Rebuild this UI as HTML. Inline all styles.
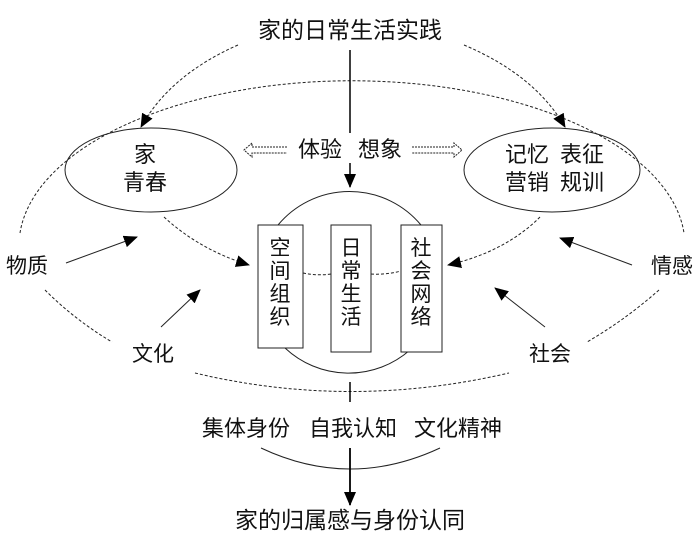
<!DOCTYPE html>
<html><head><meta charset="utf-8"><style>
html,body{margin:0;padding:0;background:#fff;}
svg{display:block}
text{font-family:"Liberation Sans","Noto Sans CJK SC",sans-serif;fill:#111;}
</style></head><body>
<svg width="700" height="541" viewBox="0 0 700 541" xmlns="http://www.w3.org/2000/svg">
<defs>
<marker id="ah2" markerWidth="14" markerHeight="12" refX="13" refY="6" orient="auto" markerUnits="userSpaceOnUse">
<path d="M0,0 L14,6 L0,12 z" fill="#000"/></marker>
</defs>
<g fill="none" stroke="#222" stroke-width="1">
<path d="M20,233 A333,165 0 0 1 684,233" stroke-dasharray="3,2"/>
<path d="M45,290 Q75,320 112,342" stroke-dasharray="3,2"/>
<path d="M659,290 Q625,320 587,342" stroke-dasharray="3,2"/>
<path d="M195,373 Q350,410 509,373" stroke-dasharray="3,2"/>
<ellipse cx="151" cy="170" rx="86" ry="42"/>
<ellipse cx="552" cy="170" rx="88" ry="42"/>
<line x1="350" y1="50" x2="350" y2="133" stroke="#000" stroke-width="1.5"/>
<line x1="350" y1="163" x2="350" y2="187" stroke="#000" stroke-width="1.5" marker-end="url(#ah2)"/>
<path d="M238,45 Q170,75 141,127" stroke-dasharray="3,2" marker-end="url(#ah2)"/>
<path d="M464,45 Q535,75 565,127" stroke-dasharray="3,2" marker-end="url(#ah2)"/>
<path d="M287,147 L252,147 L252,143 L244,150 L252,157 L252,153 L287,153" stroke-dasharray="2,1"/>
<path d="M412,147 L454,147 L454,143 L462,150 L454,157 L454,153 L412,153" stroke-dasharray="2,1"/>
<path d="M278,225 A93,93 0 0 1 421,225"/>
<path d="M285,348 A93,93 0 0 0 410,350"/>
<rect x="258" y="225" width="45" height="123" fill="#fff"/>
<rect x="331" y="225" width="40" height="127" fill="#fff"/>
<rect x="401" y="225" width="41" height="127" fill="#fff"/>
<path d="M303,273 Q317,276 331,274" stroke-dasharray="3,2"/>
<path d="M371,274 Q386,275 401,271" stroke-dasharray="3,2"/>
<path d="M164,217 Q200,250 249,265" stroke-dasharray="3,2" marker-end="url(#ah2)"/>
<path d="M540,217 Q505,252 448,265" stroke-dasharray="3,2" marker-end="url(#ah2)"/>
<line x1="66" y1="263" x2="137" y2="237" marker-end="url(#ah2)"/>
<line x1="632" y1="265" x2="560" y2="238" marker-end="url(#ah2)"/>
<line x1="161" y1="327" x2="200" y2="290" marker-end="url(#ah2)"/>
<line x1="545" y1="327" x2="495" y2="288" marker-end="url(#ah2)"/>
<line x1="350" y1="382" x2="350" y2="402" stroke="#000" stroke-width="1.5"/>
<path d="M261,448 Q350,490 440,448"/>
<line x1="350" y1="448" x2="350" y2="505" stroke="#000" stroke-width="1.8" marker-end="url(#ah2)"/>
</g>
<g font-size="22" text-anchor="middle">
<text x="350" y="38" font-size="23">家的日常生活实践</text>
<text x="320" y="157">体验</text><text x="380" y="157">想象</text>
<text x="145" y="162">家</text>
<text x="145" y="190">青春</text>
<text x="527" y="162">记忆</text><text x="582" y="162">表征</text>
<text x="527" y="190">营销</text><text x="582" y="190">规训</text>
<text x="27" y="273" font-size="21">物质</text>
<text x="672" y="273" font-size="21">情感</text>
<text x="153" y="361" font-size="21">文化</text>
<text x="550" y="361" font-size="21">社会</text>
<g font-size="21">
<text x="280" y="255">空</text><text x="280" y="278">间</text><text x="280" y="301">组</text><text x="280" y="324">织</text>
<text x="351" y="255">日</text><text x="351" y="278">常</text><text x="351" y="301">生</text><text x="351" y="324">活</text>
<text x="421" y="255">社</text><text x="421" y="278">会</text><text x="421" y="301">网</text><text x="421" y="324">络</text>
</g>
<text x="246" y="436">集体身份</text>
<text x="353" y="436">自我认知</text>
<text x="458" y="436">文化精神</text>
<text x="350" y="528" font-size="23">家的归属感与身份认同</text>
</g>
</svg>
</body></html>
